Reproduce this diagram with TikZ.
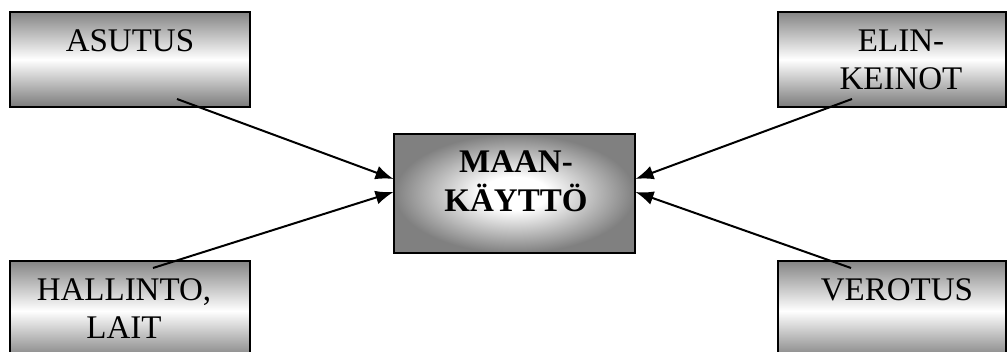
\documentclass[tikz,border=0pt]{standalone}
\usepackage{fontspec}
\setmainfont{Liberation Serif}
\usetikzlibrary{arrows.meta}

\pgfdeclareradialshading{centerglow}{\pgfpoint{0bp}{0bp}}{color(0bp)=(white); color(7bp)=(white); color(25bp)=(black!50); color(50bp)=(black!50)}

\tikzset{
  sidebox/.style={draw=black, line width=0.8pt, top color=black!48, bottom color=black!52, middle color=white, minimum width=120pt, minimum height=47.5pt, inner sep=0pt},
  mainbox/.style={draw=black, line width=0.8pt, shading=centerglow, minimum width=120.5pt, minimum height=59.5pt, inner sep=0pt},
  boxtext/.style={anchor=base, align=center, inner sep=0pt, font=\fontsize{16.5}{19}\selectfont},
  flow/.style={line width=1pt, -{Latex[length=9pt,width=7pt]}}
}

\begin{document}
\begin{tikzpicture}[x=0.5pt, y=-0.5pt]
\clip (0,0) rectangle (1007,352);

% Boxes
\node[sidebox] (asutus)   at (130, 59.5) {};
\node[sidebox, minimum width=114pt] (elinkeinot) at (892, 59.5) {};
\node[sidebox, minimum height=50pt] (hallinto) at (130, 311) {};
\node[sidebox, minimum width=114pt, minimum height=50pt] (verotus) at (892, 311) {};
\node[mainbox] (maankaytto) at (514.5, 193.5) {};

% Texts (base = last line)
\node[boxtext] (asutus-text)     at (130, 52) {ASUTUS};
\node[boxtext] (elinkeinot-text) at (901, 90) {ELIN-\\KEINOT};
\node[boxtext] (hallinto-text)   at (124, 338) {HALLINTO,\\LAIT};
\node[boxtext] (verotus-text)    at (897, 301) {VEROTUS};
\node[boxtext, font=\fontsize{16.5}{19.5}\selectfont\bfseries] (maankaytto-text) at (516, 212) {MAAN-\\KÄYTTÖ};

% Arrows
\coordinate (asutus-out)     at (177, 99);
\coordinate (hallinto-out)   at (153, 268);
\coordinate (elinkeinot-out) at (852, 99);
\coordinate (verotus-out)    at (851, 268);
\coordinate (in-left-1)  at (393.5, 179);
\coordinate (in-left-2)  at (393.5, 192);
\coordinate (in-right-1) at (635.5, 179);
\coordinate (in-right-2) at (635.5, 192);
\draw[flow] (asutus-out) -- (in-left-1);
\draw[flow] (hallinto-out) -- (in-left-2);
\draw[flow] (elinkeinot-out) -- (in-right-1);
\draw[flow] (verotus-out) -- (in-right-2);

\end{tikzpicture}
\end{document}
